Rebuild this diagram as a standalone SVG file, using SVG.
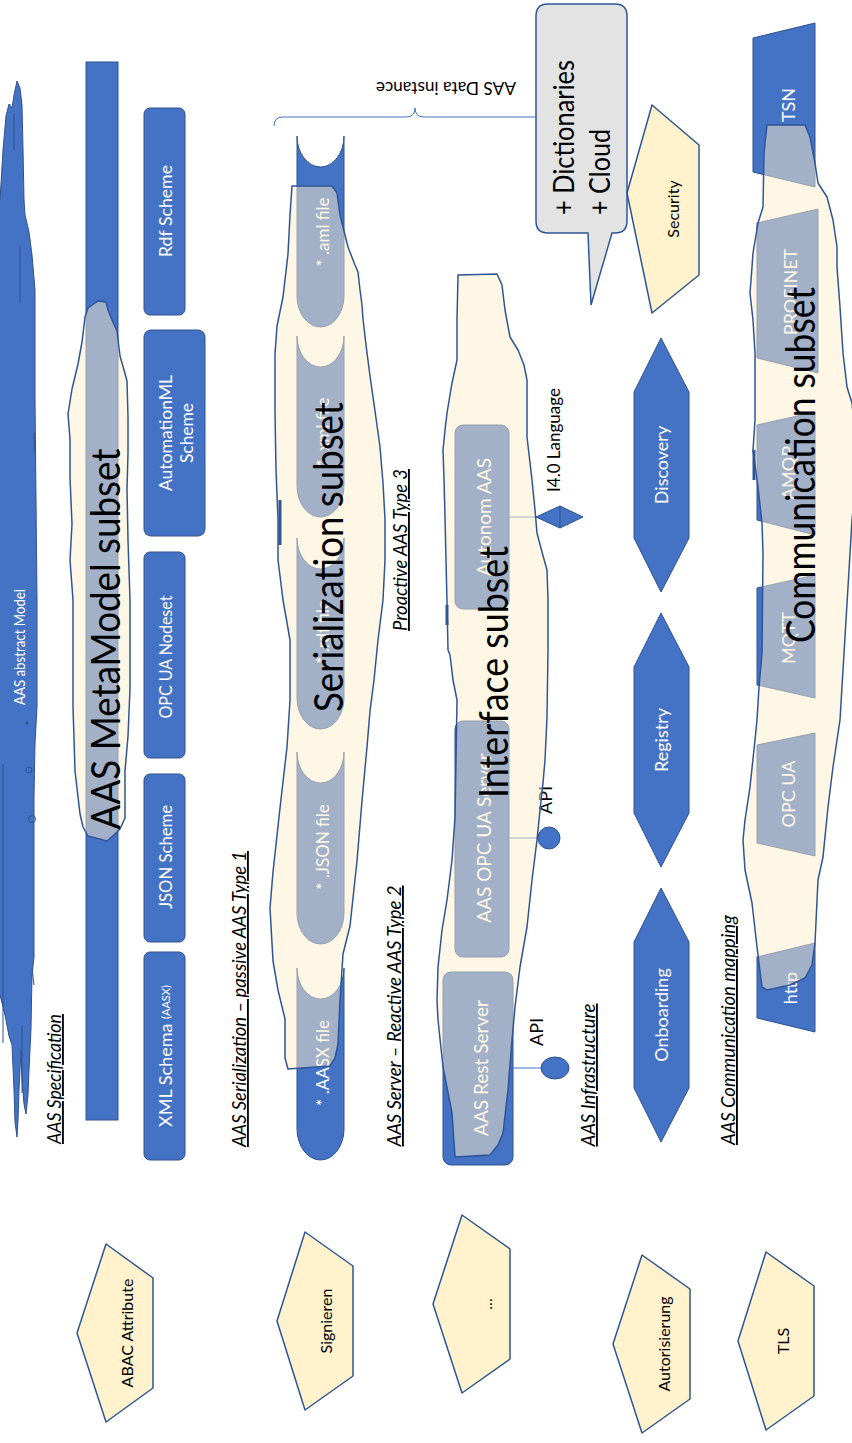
<svg xmlns="http://www.w3.org/2000/svg" width="852" height="1443" viewBox="0 0 852 1443">
<style>
.bl{fill:#4472C4;stroke:#2F528F;stroke-width:1}
.ln{fill:none;stroke:#2F528F;stroke-width:1}
.sub{fill:#FFF0CC;fill-opacity:.5;stroke:#2F5597;stroke-width:1.5;stroke-linejoin:round}
.pe{fill:#FFF2CC;stroke:#2F5597;stroke-width:1.5;stroke-linejoin:round}
.cl{fill:#E3E3E3;stroke:#2F5597;stroke-width:1.5}
text{font-family:Lato,"Open Sans","Liberation Sans",sans-serif}
.w{fill:#fff}
.k{fill:#000}
.c{text-anchor:middle;dominant-baseline:central}
.m{text-anchor:middle}
.big{font-size:40px;fill:#000}
.lb{font-size:18.5px;font-style:italic;text-decoration:underline;fill:#000}
.cn{fill:none;stroke:#4472C4;stroke-width:1}
</style>
<rect width="852" height="1443" fill="#fff"/>

<g id="abstract-model">
<path class="bl" d="M-5,205 L0,200 L3,150 L6,116 L9,104 L12,108 L14,95 L17,81 L20,88 L22,105 L23,150 L24,200 L25,215 L26,219 L29,232 L32,255 L35,290 L35,400 L36,500 L37,600 L37,707 L35,743 L34,796 L34,957 L32,975 L31,1029 L29,1070 L28,1095 L26,1114 L24,1104 L22,1080 L21,1050 L19,1090 L18,1120 L17,1137 L15,1122 L14,1090 L12,1045 L9,1036 L5,1015 L0,995 L-5,990 Z"/>
<path class="ln" d="M14,113 V150 M20,246 V303 M3,764 V1043 M22,1025 V1093 M32,968 L34,985 M34,433 L35,452"/>
<circle cx="27" cy="723" r="1.5" fill="#2F528F"/>
<circle class="ln" cx="29" cy="770" r="3"/>
<circle class="ln" cx="32" cy="819" r="3.5"/>
<text class="w c" font-size="14.5" textLength="116" lengthAdjust="spacingAndGlyphs" transform="translate(19,647) rotate(-90)">AAS abstract Model</text>
</g>

<g id="spec-bar">
<rect class="bl" x="86" y="62" width="32" height="1058"/>
</g>

<g id="rdf-scheme">
<rect class="bl" x="144" y="108" width="41" height="207" rx="6"/>
<text class="w c" font-size="18" textLength="92" lengthAdjust="spacingAndGlyphs" transform="translate(165,211) rotate(-90)">Rdf Scheme</text>
</g>
<g id="automationml-scheme">
<rect class="bl" x="144" y="330" width="61" height="206" rx="7"/>
<text class="w c" font-size="18" textLength="116" lengthAdjust="spacingAndGlyphs" transform="translate(165,433) rotate(-90)">AutomationML</text>
<text class="w c" font-size="18" textLength="60" lengthAdjust="spacingAndGlyphs" transform="translate(186,433) rotate(-90)">Scheme</text>
</g>
<g id="opcua-nodeset">
<rect class="bl" x="144" y="552" width="41" height="206" rx="6"/>
<text class="w c" font-size="18" textLength="123" lengthAdjust="spacingAndGlyphs" transform="translate(165,657) rotate(-90)">OPC UA Nodeset</text>
</g>
<g id="json-scheme">
<rect class="bl" x="144" y="774" width="41" height="168" rx="6"/>
<text class="w c" font-size="18" textLength="104" lengthAdjust="spacingAndGlyphs" transform="translate(165,857) rotate(-90)">JSON Scheme</text>
</g>
<g id="xml-schema">
<rect class="bl" x="144" y="952" width="41" height="208" rx="6"/>
<text class="w c" font-size="18" transform="translate(165,1056) rotate(-90)">XML Schema <tspan font-size="11">(AASX)</tspan></text>
</g>

<g id="aml-file">
<path class="bl" d="M297,136 A23.5,31 0 0 0 344,136 L344,296 A23.5,31 0 0 1 297,296 Z"/>
<text class="w c" font-size="17" transform="translate(322,232) rotate(-90)">* .aml file</text>
</g>
<g id="xml-file">
<path class="bl" d="M297,336 A23.5,31 0 0 0 344,336 L344,486 A23.5,31 0 0 1 297,486 Z"/>
<text class="w c" font-size="17" transform="translate(322,432) rotate(-90)">* .xml file</text>
</g>
<g id="rdf-file">
<path class="bl" d="M297,538 A23.5,31 0 0 0 344,538 L344,698 A23.5,31 0 0 1 297,698 Z"/>
<text class="w c" font-size="17" transform="translate(322,632) rotate(-90)">* .rdf file</text>
</g>
<g id="json-file">
<path class="bl" d="M297,752 A23.5,31 0 0 0 344,752 L344,913 A23.5,31 0 0 1 297,913 Z"/>
<text class="w c" font-size="17" transform="translate(322,847) rotate(-90)">* .JSON file</text>
</g>
<g id="aasx-file">
<path class="bl" d="M297,968 A23.5,31 0 0 0 344,968 L344,1129 A23.5,31 0 0 1 297,1129 Z"/>
<text class="w c" font-size="17" transform="translate(322,1063) rotate(-90)">* .AASX file</text>
</g>

<g id="autonom-aas">
<rect class="bl" x="455" y="425" width="54" height="184" rx="8"/>
<text class="w c" font-size="19" transform="translate(483,517) rotate(-90)">Autonom AAS</text>
</g>
<g id="aas-opcua-server">
<rect class="bl" x="455" y="721" width="54" height="236" rx="8"/>
<text class="w c" font-size="19" transform="translate(483,838) rotate(-90)">AAS OPC UA Server</text>
</g>
<g id="aas-rest-server">
<rect class="bl" x="443" y="972" width="70" height="193" rx="8"/>
<text class="w c" font-size="19" transform="translate(480,1068) rotate(-90)">AAS Rest Server</text>
</g>

<g id="connectors">
<path class="cn" d="M509,517 H536"/>
<path class="cn" d="M509,838 H538"/>
<path class="cn" d="M513,1068 H542"/>
</g>

<g id="i40-language">
<path class="bl" d="M536,517 L560,506 L583,517 L560,528 Z"/>
<path class="ln" d="M560,506 V528"/>
<text class="k c" font-size="18" textLength="104" lengthAdjust="spacingAndGlyphs" transform="translate(553,440) rotate(-90)">I4.0 Language</text>
</g>
<g id="api-opcua">
<circle class="bl" cx="549" cy="838" r="11"/>
<text class="k c" font-size="18" transform="translate(545,800) rotate(-90)">API</text>
</g>
<g id="api-rest">
<ellipse class="bl" cx="555" cy="1068" rx="14" ry="11"/>
<text class="k c" font-size="18" transform="translate(536,1032) rotate(-90)">API</text>
</g>

<g id="discovery">
<path class="bl" d="M661,338 L689,392 L689,538 L661,592 L634,538 L634,392 Z"/>
<text class="w c" font-size="18" transform="translate(661,465) rotate(-90)">Discovery</text>
</g>
<g id="registry">
<path class="bl" d="M661,613 L689,667 L689,813 L661,867 L634,813 L634,667 Z"/>
<text class="w c" font-size="18" transform="translate(661,740) rotate(-90)">Registry</text>
</g>
<g id="onboarding">
<path class="bl" d="M661,888 L689,942 L689,1088 L661,1142 L634,1088 L634,942 Z"/>
<text class="w c" font-size="18" transform="translate(661,1015) rotate(-90)">Onboarding</text>
</g>

<g id="tsn">
<path class="bl" d="M753,38 L815,23 L815,187 L753,172 Z"/>
<text class="w c" font-size="18" transform="translate(788,105) rotate(-90)">TSN</text>
</g>
<g id="profinet">
<path class="bl" d="M757,223 L818,209 L818,373 L757,358 Z"/>
<text class="w c" font-size="18" transform="translate(790,292) rotate(-90)">PROFINET</text>
</g>
<g id="amqp">
<path class="bl" d="M757,425 L815,412 L815,535 L757,520 Z"/>
<text class="w c" font-size="18" transform="translate(788,473) rotate(-90)">AMQP</text>
</g>
<g id="mqtt">
<path class="bl" d="M757,588 L815,575 L815,698 L757,685 Z"/>
<text class="w c" font-size="18" transform="translate(788,638) rotate(-90)">MQTT</text>
</g>
<g id="opcua">
<path class="bl" d="M757,745 L815,733 L815,856 L757,843 Z"/>
<text class="w c" font-size="18" transform="translate(788,794) rotate(-90)">OPC UA</text>
</g>
<g id="http">
<path class="bl" d="M757,957 L815,943 L815,1032 L757,1018 Z"/>
<text class="w c" font-size="18" transform="translate(790,988) rotate(-90)">http</text>
</g>

<g id="aas-data-instance">
<path class="cn" d="M274,126 Q274,117 283,117 L406,117 Q415,117 415,108 Q415,117 424,117 L545,117"/>
<text class="k c" font-size="18" textLength="140" lengthAdjust="spacingAndGlyphs" transform="translate(446,89) rotate(180)">AAS Data instance</text>
</g>

<g id="callout">
<path class="cl" d="M548,4 H615 Q627,4 627,16 V221 Q627,233 615,233 H612 L591,305 L588,233 H548 Q536,233 536,221 V16 Q536,4 548,4 Z"/>
<text class="k" font-size="28" textLength="155" lengthAdjust="spacingAndGlyphs" transform="translate(574,215) rotate(-90)">+ Dictionaries</text>
<text class="k" font-size="28" textLength="86" lengthAdjust="spacingAndGlyphs" transform="translate(610,215) rotate(-90)">+ Cloud</text>
</g>

<g id="security">
<path class="pe" d="M652,105 L699,145 L699,275 L652,313 L627,193 Z"/>
<text class="k c" font-size="16" transform="translate(672,209) rotate(-90)">Security</text>
</g>

<g id="metamodel-subset">
<path class="sub" d="M88,308 L98,301 L106,302 L108,310 L112,320 L117,331 L120,356 L124,370 L127,381 L128,417 L128,453 L127,489 L128,540 L130,600 L130,689 L128,736 L125,771 L125,818 L120,829 L115,834 L107,841 L88,836 L83,827 L80,814 L75,771 L73,707 L73,600 L70,560 L72,524 L70,478 L70,439 L68,414 L72,389 L78,364 L82,342 L85,317 Z"/>
<text class="big m" textLength="381" lengthAdjust="spacingAndGlyphs" transform="translate(120,639) rotate(-90)">AAS MetaModel subset</text>
</g>

<g id="serialization-subset">
<path class="sub" d="M292,186 L332,186 L337,193 L340,215 L345,235 L348,247 L355,265 L358,272 L360,290 L362,305 L363,319 L366,345 L370,376 L375,411 L380,447 L383,483 L385,519 L385,560 L383,600 L378,640 L374,680 L370,711 L367,747 L362,801 L357,861 L350,926 L343,954 L340,1000 L338,1044 L335,1058 L330,1066 L288,1069 L285,1058 L285,1019 L278,990 L273,961 L270,908 L273,872 L280,808 L287,747 L290,700 L290,640 L283,600 L278,560 L278,519 L276,470 L275,411 L275,354 L277,326 L283,297 L288,254 L290,215 Z"/>
<path d="M280,500 V545" stroke="#2F5597" stroke-width="3"/>
<text class="big m" textLength="310" lengthAdjust="spacingAndGlyphs" transform="translate(343,557) rotate(-90)">Serialization subset</text>
</g>

<g id="interface-subset">
<path class="sub" d="M458,275 L497,274 L502,285 L505,310 L510,337 L518,350 L524,365 L527,380 L527,437 L532,480 L535,510 L537,533 L542,552 L547,570 L548,600 L548,650 L547,717 L545,760 L543,783 L540,810 L537,840 L532,880 L527,927 L520,967 L515,1007 L512,1040 L508,1090 L503,1133 L498,1145 L490,1155 L455,1157 L452,1113 L443,1067 L438,1020 L437,1000 L438,967 L442,930 L447,900 L452,860 L455,817 L456,760 L457,700 L453,680 L450,655 L448,650 L447,603 L446,560 L445,517 L444,480 L443,450 L445,430 L447,413 L452,383 L457,360 L457,320 Z"/>
<path d="M447,605 V625" stroke="#2F5597" stroke-width="3"/>
<text class="big m" textLength="252" lengthAdjust="spacingAndGlyphs" transform="translate(508,672) rotate(-90)">Interface subset</text>
</g>

<g id="communication-subset">
<path class="sub" d="M767,125 L805,125 L810,137 L815,163 L818,183 L827,197 L833,220 L837,247 L837,267 L840,307 L843,353 L847,387 L852,403 L858,460 L852,520 L848,587 L843,670 L840,720 L833,767 L828,807 L823,857 L818,880 L815,943 L812,965 L805,978 L790,985 L767,990 L762,987 L757,947 L752,903 L745,870 L743,840 L745,820 L750,787 L755,740 L757,720 L759,687 L762,653 L763,553 L762,523 L758,487 L753,450 L755,420 L755,353 L753,320 L750,293 L752,267 L753,253 L758,223 L763,207 L764,153 Z"/>
<path d="M754,450 V480" stroke="#2F5597" stroke-width="3"/>
<text class="big m" textLength="356" lengthAdjust="spacingAndGlyphs" transform="translate(815,465) rotate(-90)">Communication subset</text>
</g>

<g id="labels">
<text class="lb m" textLength="130" lengthAdjust="spacingAndGlyphs" transform="translate(61,1079) rotate(-90)">AAS Specification</text>
<text class="lb m" textLength="296" lengthAdjust="spacingAndGlyphs" transform="translate(246,999) rotate(-90)">AAS Serialization – passive AAS Type 1</text>
<text class="lb m" textLength="261" lengthAdjust="spacingAndGlyphs" transform="translate(401,1016) rotate(-90)">AAS Server – Reactive AAS Type 2</text>
<text class="lb m" textLength="162" lengthAdjust="spacingAndGlyphs" transform="translate(407,550) rotate(-90)">Proactive AAS Type 3</text>
<text class="lb m" textLength="143" lengthAdjust="spacingAndGlyphs" transform="translate(595,1075) rotate(-90)">AAS Infrastructure</text>
<text class="lb m" textLength="230" lengthAdjust="spacingAndGlyphs" transform="translate(735,1030) rotate(-90)">AAS Communication mapping</text>
</g>

<g id="abac-attribute">
<path class="pe" d="M106,1244 L153,1278 L153,1388 L106,1422 L77,1333 Z"/>
<text class="k c" font-size="16" transform="translate(126,1333) rotate(-90)">ABAC Attribute</text>
</g>
<g id="signieren">
<path class="pe" d="M305,1232 L353,1266 L353,1376 L305,1410 L277,1321 Z"/>
<text class="k c" font-size="16" transform="translate(325,1321) rotate(-90)">Signieren</text>
</g>
<g id="ellipsis">
<path class="pe" d="M462,1215 L510,1249 L510,1359 L462,1393 L433,1304 Z"/>
<text class="k c" font-size="16" transform="translate(485,1304) rotate(-90)">...</text>
</g>
<g id="autorisierung">
<path class="pe" d="M642,1255 L690,1289 L690,1399 L642,1433 L613,1344 Z"/>
<text class="k c" font-size="16" transform="translate(663,1344) rotate(-90)">Autorisierung</text>
</g>
<g id="tls">
<path class="pe" d="M766,1252 L814,1286 L814,1396 L766,1430 L738,1341 Z"/>
<text class="k c" font-size="16" transform="translate(782,1341) rotate(-90)">TLS</text>
</g>
</svg>
